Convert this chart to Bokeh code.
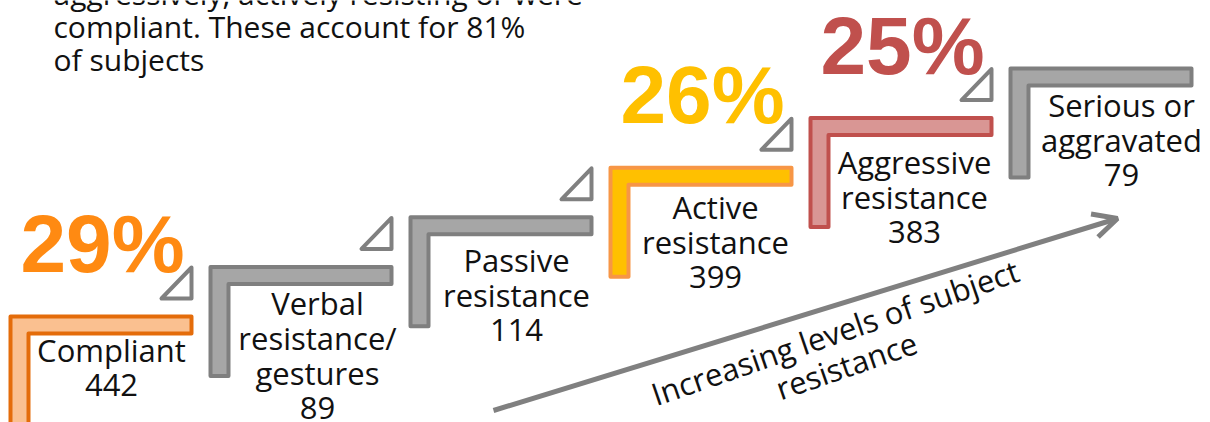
import math
from bokeh.plotting import figure
from bokeh.models import ColumnDataSource, Range1d, Arrow, OpenHead
from bokeh.core.properties import value
from bokeh.embed import file_html
from bokeh.resources import INLINE

# ---------------- data ----------------
categories = ["Compliant",
              "Verbal\nresistance/\ngestures",
              "Passive\nresistance",
              "Active\nresistance",
              "Aggressive\nresistance",
              "Serious or\naggravated"]
counts = [442, 89, 114, 399, 383, 79]
pct_index = [0, 3, 4]
pct_values = [29, 26, 25]
note_lines = ["aggressively, actively resisting or were",
              "compliant. These account for 81%",
              "of subjects"]
arrow_text = ["Increasing levels of subject", "resistance"]

# ---------------- styles / layout ----------------
fills = ["#FAC090", "#A6A6A6", "#A6A6A6", "#FFC000", "#D99694", "#A6A6A6"]
strokes = ["#E46C0A", "#7F7F7F", "#7F7F7F", "#F79646", "#C0504D", "#7F7F7F"]
pct_colors = {0: "#FF8A12", 3: "#FFC000", 4: "#C0504D"}
label_dx = [103, 109, 108, 107, 106, 113]
label_dy = [35, 38, 45, 41, 46, 38]
LINE_GAP = 35
STEP_X0, STEP_DX = 8, 200
STEP_Y0, STEP_DY = 314, 49.6
L_W, L_BAR, L_H, SW = 185, 21, 113, 4
GRAY = "#808080"
FONT = "Open Sans"

p = figure(width=1210, height=422, x_range=Range1d(0, 1210), y_range=Range1d(422, 0),
           output_backend="svg", toolbar_location=None, min_border=0)
p.axis.visible = False
p.grid.visible = False
p.outline_line_color = None
p.background_fill_color = "white"
p.border_fill_color = "white"

n = len(categories)
lefts = [STEP_X0 + STEP_DX * i for i in range(n)]
tops = [STEP_Y0 - STEP_DY * i for i in range(n)]

# L-shaped steps
s = SW / 2
lx, ly = [], []
for L, T in zip(lefts, tops):
    lx.append([L + s, L + L_W - s, L + L_W - s, L + 22 - s, L + 22 - s, L + s])
    ly.append([T + s, T + s, T + L_BAR - s, T + L_BAR - s, T + L_H - s, T + L_H - s])
p.patches(xs=lx, ys=ly, fill_color=fills, line_color=strokes, line_width=SW, line_join="round")

# small triangles
tx, ty = [], []
for L, T in zip(lefts[:-1], tops[:-1]):
    R = L + L_W
    tx.append([R - 32, R - 2, R - 2])
    ty.append([T - 16, T - 16, T - 47])
p.patches(xs=tx, ys=ty, fill_color="white", line_color=GRAY, line_width=SW, line_join="round")

# category labels with counts
lab = dict(x=[], y=[], t=[])
for i in range(n):
    lines = categories[i].split("\n") + [str(counts[i])]
    for k, ln in enumerate(lines):
        lab["x"].append(lefts[i] + label_dx[i])
        lab["y"].append(tops[i] + label_dy[i] + k * LINE_GAP)
        lab["t"].append(ln)
p.text(x="x", y="y", text="t", source=ColumnDataSource(lab), text_align="center",
       text_baseline="alphabetic", text_font=value(FONT), text_font_size="31px",
       text_color="#111111")

# percentages
pc = dict(x=[lefts[i] + 94 for i in pct_index], y=[tops[i] - 71 for i in pct_index],
          t=[f"{v}%" for v in pct_values], c=[pct_colors[i] for i in pct_index])
p.text(x="x", y="y", text="t", source=ColumnDataSource(pc), text_align="center",
       text_baseline="alphabetic", text_font=value("Liberation Sans"), text_font_style="bold",
       text_font_size="82px", text_color="c")

# note text at top left
p.text(x=[53] * len(note_lines), y=[-7 + 33 * k for k in range(len(note_lines))], text=note_lines,
       text_align="left", text_baseline="alphabetic", text_font=value(FONT),
       text_font_size="30px", text_color="#111111")

# arrow
p.add_layout(Arrow(end=OpenHead(size=24, line_color=GRAY, line_width=5),
                   x_start=493, y_start=410, x_end=1117, y_end=218,
                   line_color=GRAY, line_width=5))

ang = 19
sa, ca = math.sin(math.radians(ang)), math.cos(math.radians(ang))
ax0, ay0 = 838 - 11 * sa, 342 - 11 * ca
p.text(x=[ax0, ax0 + LINE_GAP * sa], y=[ay0, ay0 + LINE_GAP * ca], text=arrow_text,
       angle=ang, angle_units="deg",
       text_align="center", text_baseline="alphabetic", text_font=value(FONT),
       text_font_size="31px", text_color="#111111")

open("out.html", "w").write(file_html(p, INLINE))
